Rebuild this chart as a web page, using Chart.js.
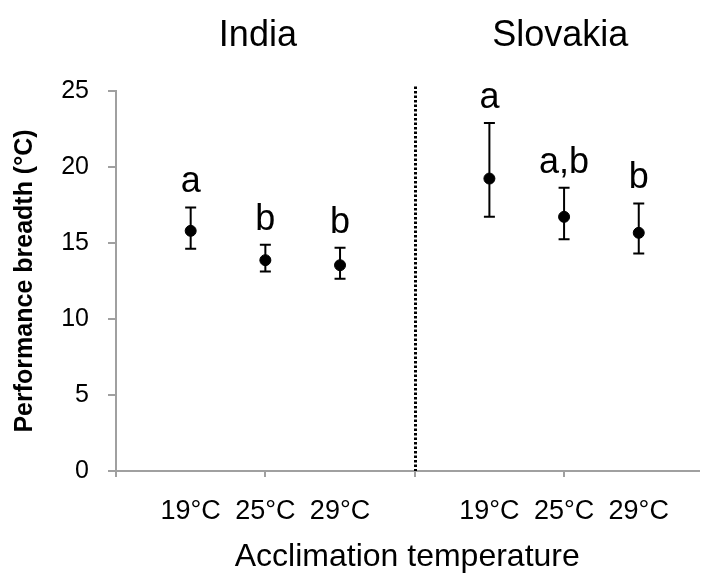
<!DOCTYPE html>
<html>
<head>
<meta charset="utf-8">
<script src="https://cdn.jsdelivr.net/npm/chart.js@4"></script>
<style>
  html, body { margin: 0; padding: 0; background: #fff; overflow: hidden; }
</style>
</head>
<body>
<canvas id="chart" width="705" height="582"></canvas>
<script>
// Populations and acclimation temperatures
const groups = ['India', 'Slovakia'];
const temps = ['19°C', '25°C', '29°C'];

// Performance breadth (°C): mean and error-bar limits per temperature
const indiaMean = [15.80, 13.87, 13.54];
const indiaLow  = [14.62, 13.13, 12.65];
const indiaHigh = [17.34, 14.88, 14.68];

const slovakiaMean = [19.24, 16.72, 15.67];
const slovakiaLow  = [16.72, 15.25, 14.31];
const slovakiaHigh = [22.90, 18.63, 17.60];

// Significance letters
const indiaLetters = ['a', 'b', 'b'];
const slovakiaLetters = ['a', 'a,b', 'b'];

// Y axis ticks
const yTicks = [0, 5, 10, 15, 20, 25];

const FONT = "'Liberation Sans', Arial, sans-serif";

// Each group takes four slots on the x axis: a gap, then the three temperatures
const slot = (g, t) => g * 4 + t + 1;
const means = [indiaMean, slovakiaMean];
const lows = [indiaLow, slovakiaLow];
const highs = [indiaHigh, slovakiaHigh];
const letters = [indiaLetters, slovakiaLetters];

const points = [];
groups.forEach((g, gi) => {
  temps.forEach((t, ti) => {
    points.push({ x: slot(gi, ti), y: means[gi][ti], lo: lows[gi][ti], hi: highs[gi][ti], letter: letters[gi][ti] });
  });
});

const tickLabels = {};
groups.forEach((g, gi) => temps.forEach((t, ti) => { tickLabels[slot(gi, ti)] = t; }));

const decor = {
  id: 'decor',
  beforeDatasetsDraw(chart) {
    const { ctx, scales: { x, y } } = chart;
    ctx.save();
    ctx.strokeStyle = '#000';
    ctx.lineWidth = 2;
    points.forEach(p => {
      const px = x.getPixelForValue(p.x);
      const yl = y.getPixelForValue(p.lo);
      const yh = y.getPixelForValue(p.hi);
      ctx.beginPath();
      ctx.moveTo(px, yl); ctx.lineTo(px, yh);
      ctx.moveTo(px - 5.5, yl); ctx.lineTo(px + 5.5, yl);
      ctx.moveTo(px - 5.5, yh); ctx.lineTo(px + 5.5, yh);
      ctx.stroke();
    });
    ctx.restore();
  },
  afterDatasetsDraw(chart) {
    const { ctx, scales: { x, y } } = chart;
    ctx.save();
    // dotted divider between the two populations
    const dx = Math.round(x.getPixelForValue(4)) + 0.5;
    ctx.strokeStyle = '#000';
    ctx.lineWidth = 3;
    ctx.setLineDash([2.5, 2]);
    ctx.beginPath();
    ctx.moveTo(dx, y.getPixelForValue(25.3));
    ctx.lineTo(dx, y.getPixelForValue(0));
    ctx.stroke();
    ctx.setLineDash([]);

    // significance letters above each error bar
    ctx.fillStyle = '#000';
    ctx.textAlign = 'center';
    ctx.textBaseline = 'alphabetic';
    ctx.font = `36px ${FONT}`;
    points.forEach(p => {
      ctx.fillText(p.letter, x.getPixelForValue(p.x), y.getPixelForValue(p.hi) - 15);
    });

    // population names
    const centers = [1.9, 5.95];
    ctx.font = `36px ${FONT}`;
    groups.forEach((g, gi) => {
      ctx.fillText(g, x.getPixelForValue(centers[gi]), 46);
    });
    ctx.restore();
  }
};

new Chart(document.getElementById('chart'), {
  type: 'scatter',
  data: {
    datasets: [{
      data: points,
      backgroundColor: '#000',
      borderColor: '#000',
      pointRadius: 5.5,
      pointHoverRadius: 5.5
    }]
  },
  options: {
    responsive: false,
    animation: false,
    events: [],
    layout: { padding: { top: 91, right: 0, bottom: 0, left: 0 } },
    plugins: { legend: { display: false }, tooltip: { enabled: false } },
    scales: {
      x: {
        type: 'linear',
        min: 0,
        max: 7.8,
        afterBuildTicks: s => { s.ticks = [0, 1, 2, 3, 4, 5, 6, 7].map(v => ({ value: v })); },
        afterFit: s => { s.height = 111; },
        border: { color: '#a0a0a0', width: 2 },
        grid: {
          drawOnChartArea: false,
          drawTicks: true,
          tickLength: 6,
          lineWidth: 2,
          color: c => (c.tick && c.tick.value % 2 === 0) ? '#a0a0a0' : 'rgba(0,0,0,0)'
        },
        ticks: {
          autoSkip: false,
          maxRotation: 0,
          padding: 18,
          color: '#000',
          font: { family: FONT, size: 27 },
          callback: v => tickLabels[v] || ''
        },
        title: {
          display: true,
          text: 'Acclimation temperature',
          color: '#000',
          font: { family: FONT, size: 32 },
          padding: { top: 0, bottom: 6 }
        }
      },
      y: {
        min: 0,
        max: 25,
        afterBuildTicks: s => { s.ticks = yTicks.map(v => ({ value: v })); },
        afterFit: s => { s.width = 116; },
        border: { color: '#a0a0a0', width: 2 },
        grid: {
          drawOnChartArea: false,
          drawTicks: true,
          tickLength: 8,
          lineWidth: 2,
          color: '#a0a0a0'
        },
        ticks: {
          padding: 19,
          color: '#000',
          font: { family: FONT, size: 25 }
        },
        title: {
          display: true,
          text: 'Performance breadth (°C)',
          color: '#000',
          font: { family: FONT, size: 25, weight: 'bold' },
          padding: { top: 10, bottom: 0 }
        }
      }
    }
  },
  plugins: [decor]
});
</script>
</body>
</html>
